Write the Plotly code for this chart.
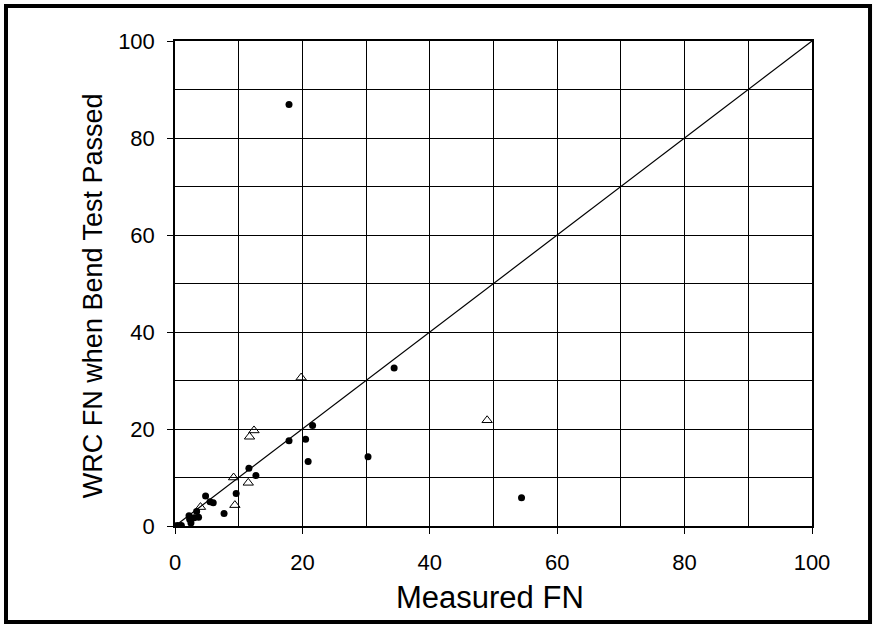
import plotly.graph_objects as go

# Filled markers (black dots)
dot_x = [17.9, 34.4, 54.4, 21.6, 17.9, 20.5, 20.9, 30.3, 11.6, 12.7, 9.6, 4.8, 5.5, 6.0, 7.7,
         3.4, 2.2, 2.3, 3.0, 3.7, 2.5, 0.4, 1.0, 0.0]
dot_y = [86.9, 32.6, 5.8, 20.7, 17.6, 17.9, 13.3, 14.3, 11.9, 10.4, 6.7, 6.2, 5.0, 4.8, 2.6,
         3.0, 2.1, 1.4, 1.7, 1.8, 0.6, 0.1, 0.1, 0.0]

# Open triangle markers
tri_x = [19.8, 49.0, 12.4, 11.7, 9.2, 11.5, 9.4, 4.0]
tri_y = [30.6, 21.8, 19.7, 18.4, 10.0, 8.9, 4.3, 3.9]

line_x = [0, 100]
line_y = [0, 100]

ticks = [0, 20, 40, 60, 80, 100]
grid = list(range(0, 101, 10))

fig = go.Figure()
fig.add_trace(go.Scatter(x=line_x, y=line_y, mode="lines",
                         line=dict(color="black", width=1.2), hoverinfo="skip"))
fig.add_trace(go.Scatter(x=dot_x, y=dot_y, mode="markers",
                         marker=dict(symbol="circle", size=7, color="black",
                                     line=dict(width=0))))
fig.add_trace(go.Scatter(x=tri_x, y=tri_y, mode="markers",
                         marker=dict(symbol="triangle-up-open", size=9, color="black",
                                     line=dict(width=1))))

axis_common = dict(
    range=[0, 100], showgrid=True, gridcolor="black", gridwidth=1,
    showline=True, linecolor="black", linewidth=1.5, mirror=True,
    zeroline=False, ticks="outside", ticklen=6, tickcolor="black",
    tickfont=dict(family="Liberation Sans, Arial", size=22, color="black"),
)

fig.update_xaxes(**axis_common, tickvals=ticks, ticktext=[str(t) for t in ticks],
                 minor=dict(tickvals=grid, showgrid=True, gridcolor="black", gridwidth=1),
                 ticklabelstandoff=10)
fig.update_yaxes(**axis_common, tickvals=ticks, ticktext=[str(t) for t in ticks],
                 minor=dict(tickvals=grid, showgrid=True, gridcolor="black", gridwidth=1),
                 ticklabelstandoff=8)

fig.update_layout(
    width=875, height=625,
    margin=dict(l=175, r=63, t=41, b=99),
    paper_bgcolor="white", plot_bgcolor="white",
    showlegend=False,
    font=dict(family="Liberation Sans, Arial", color="black"),
    annotations=[
        dict(text="Measured FN", xref="paper", yref="paper", x=0.4945, y=-0.148,
             showarrow=False, font=dict(size=31), xanchor="center", yanchor="middle"),
        dict(text="WRC FN when Bend Test Passed", xref="paper", yref="paper",
             x=-0.1287, y=0.474, textangle=-90, showarrow=False,
             font=dict(size=27), xanchor="center", yanchor="middle"),
    ],
    shapes=[
        dict(type="rect", xref="paper", yref="paper",
             x0=-0.2653, x1=1.0911, y0=-0.1979, y1=1.0722,
             line=dict(color="black", width=4), fillcolor="rgba(0,0,0,0)", layer="above"),
    ],
)

fig.write_html("out.html")
